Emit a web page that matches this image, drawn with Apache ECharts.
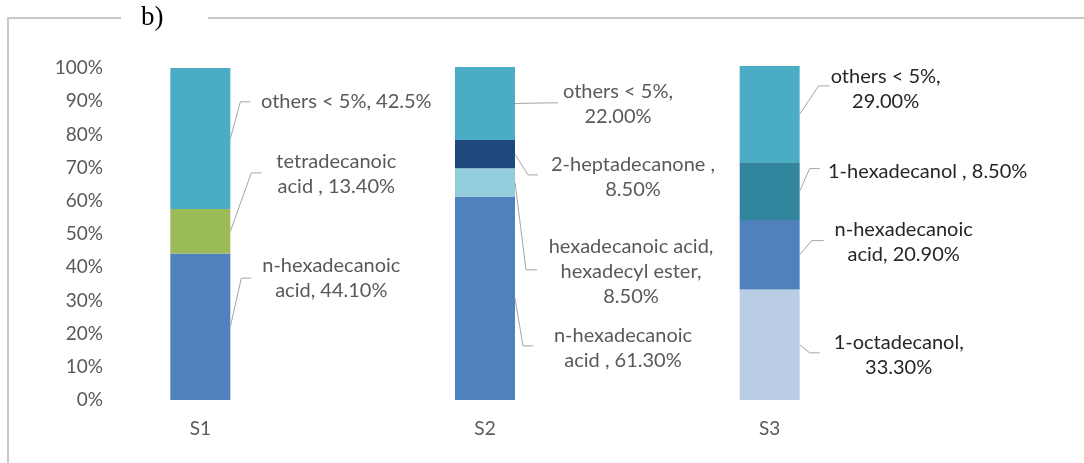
<!DOCTYPE html>
<html>
<head>
<meta charset="utf-8">
<script src="https://cdn.jsdelivr.net/npm/echarts@6/dist/echarts.min.js"></script>
<style>
html,body{margin:0;padding:0;background:#fff;}
#chart{width:1084px;height:463px;}
</style>
</head>
<body>
<div id="chart"></div>
<script>
// ---- data ----
const categories = ['S1', 'S2', 'S3'];
const yTickLabels = ['0%','10%','20%','30%','40%','50%','60%','70%','80%','90%','100%'];
// stacked from bottom to top
const octadecanol    = [null, null, 33.3];
const nHexadecanoic  = [44.1, 61.3, 20.9];
const hexadecylEster = [null, 8.5, null];
const tetradecanoic  = [13.4, null, null];
const heptadecanone  = [null, 8.5, null];
const hexadecanol    = [null, null, 17.4];
const others         = [42.5, 22.0, 29.0];

const octadecanolLabels    = [null, null, '1-octadecanol,\n33.30%'];
const nHexadecanoicLabels  = ['n-hexadecanoic\nacid, 44.10%', 'n-hexadecanoic\nacid , 61.30%', 'n-hexadecanoic\nacid, 20.90%'];
const hexadecylEsterLabels = [null, 'hexadecanoic acid,\nhexadecyl ester,\n8.50%', null];
const tetradecanoicLabels  = ['tetradecanoic\nacid , 13.40%', null, null];
const heptadecanoneLabels  = [null, '2-heptadecanone ,\n8.50%', null];
const hexadecanolLabels    = [null, null, '1-hexadecanol , 8.50%'];
const othersLabels         = ['others < 5%, 42.5%', 'others < 5%,\n22.00%', 'others < 5%,\n29.00%'];

// ---- layout / style (kept apart from data) ----
const BAR_W = 60;
const FONT = 'Lato, "Open Sans", sans-serif';
const seriesDefs = [
  {name: '1-octadecanol', data: octadecanol, labels: octadecanolLabels, color: '#B9CDE5'},
  {name: 'n-hexadecanoic acid', data: nHexadecanoic, labels: nHexadecanoicLabels, color: '#4F81BD'},
  {name: 'hexadecanoic acid, hexadecyl ester', data: hexadecylEster, labels: hexadecylEsterLabels, color: '#92CDDC'},
  {name: 'tetradecanoic acid', data: tetradecanoic, labels: tetradecanoicLabels, color: '#9BBB59'},
  {name: '2-heptadecanone', data: heptadecanone, labels: heptadecanoneLabels, color: '#1F497D'},
  {name: '1-hexadecanol', data: hexadecanol, labels: hexadecanolLabels, color: '#31859C'},
  {name: 'others < 5%', data: others, labels: othersLabels, color: '#4BACC6'}
];
// label placement per [seriesIndex, categoryIndex]: text centre dx (px from category centre),
// text centre y (axis units), elbow dx, end dx, elbow dy (px)
const labelPlacement = {
  '1,0': [131, 36.7, 41, 51, 0],
  '3,0': [136, 68.1, 51, 61, -1],
  '6,0': [146, 89.8, 40, 50, 0],
  '1,1': [138, 15.7, 38, 48, -2],
  '2,1': [146, 38.6, 41, 52, -2],
  '4,1': [148, 67.2, 43, 53, -2],
  '6,1': [133, 89.2, 63, 73, -1],
  '0,2': [129, 13.6, 40, 50, -2],
  '1,2': [134, 47.7, 42, 54, -1],
  '5,2': [158, 68.8, 40, 50, -3],
  '6,2': [116, 93.7, 49, 60, -3]
};
const labelColors = ['#595959', '#595959', '#262626'];

// build label items from data
const labelItems = [];
const cum = categories.map(() => 0);
seriesDefs.forEach((s, si) => {
  s.data.forEach((v, ci) => {
    if (v == null) return;
    const mid = cum[ci] + v / 2;
    cum[ci] += v;
    const p = labelPlacement[si + ',' + ci];
    if (!p || !s.labels[ci]) return;
    labelItems.push({value: [ci, mid, p[1], p[0], p[2], p[3], p[4]], text: s.labels[ci]});
  });
});

const barSeries = seriesDefs.map(s => ({
  name: s.name,
  type: 'bar',
  stack: 'total',
  barWidth: BAR_W,
  clip: false,
  itemStyle: {color: s.color},
  emphasis: {disabled: true},
  data: s.data
}));

const labelSeries = {
  type: 'custom',
  clip: false,
  silent: true,
  z: 10,
  data: labelItems.map(d => d.value),
  renderItem: function (params, api) {
    const item = labelItems[params.dataIndex];
    const ci = api.value(0);
    const seg = api.coord([ci, api.value(1)]);
    const lab = api.coord([ci, api.value(2)]);
    const cx = seg[0];
    const barRight = cx + BAR_W / 2;
    const ey = lab[1] + api.value(6);
    return {
      type: 'group',
      children: [
        {
          type: 'polyline',
          shape: {points: [[barRight, seg[1]], [cx + api.value(4), ey], [cx + api.value(5), ey]]},
          style: {stroke: '#A6A6A6', lineWidth: 1, fill: null}
        },
        {
          type: 'text',
          style: {
            text: item.text,
            x: cx + api.value(3),
            y: lab[1],
            align: 'center',
            verticalAlign: 'middle',
            fill: labelColors[ci],
            font: '20px ' + FONT,
            lineHeight: 25
          }
        }
      ]
    };
  }
};

const chart = echarts.init(document.getElementById('chart'), null, {renderer: 'canvas'});
chart.setOption({
  backgroundColor: '#ffffff',
  animation: false,
  grid: {left: 58, right: 172, top: 68, bottom: 63, containLabel: false},
  xAxis: {
    type: 'category',
    data: categories,
    axisLine: {show: false},
    axisTick: {show: false},
    axisLabel: {color: '#595959', fontSize: 19, fontFamily: FONT, margin: 19}
  },
  yAxis: {
    type: 'value',
    min: 0,
    max: 100,
    interval: 10,
    offset: -53,
    axisLine: {show: false},
    axisTick: {show: false},
    splitLine: {show: false},
    axisLabel: {
      color: '#595959', fontSize: 19, fontFamily: FONT, margin: 8,
      formatter: function (v) { return yTickLabels[Math.round(v / 10)]; }
    }
  },
  graphic: [
    {type: 'line', shape: {x1: 7, y1: 18, x2: 121, y2: 18}, style: {stroke: '#C8C8C8', lineWidth: 2}},
    {type: 'line', shape: {x1: 208, y1: 18, x2: 1084, y2: 18}, style: {stroke: '#C8C8C8', lineWidth: 2}},
    {type: 'line', shape: {x1: 8, y1: 17, x2: 8, y2: 463}, style: {stroke: '#C8C8C8', lineWidth: 2}},
    {type: 'text', left: 141, top: 4, style: {text: 'b)', fill: '#000000', font: '27px "Liberation Serif", "Times New Roman", serif'}}
  ],
  series: barSeries.concat([labelSeries])
});
</script>
</body>
</html>
